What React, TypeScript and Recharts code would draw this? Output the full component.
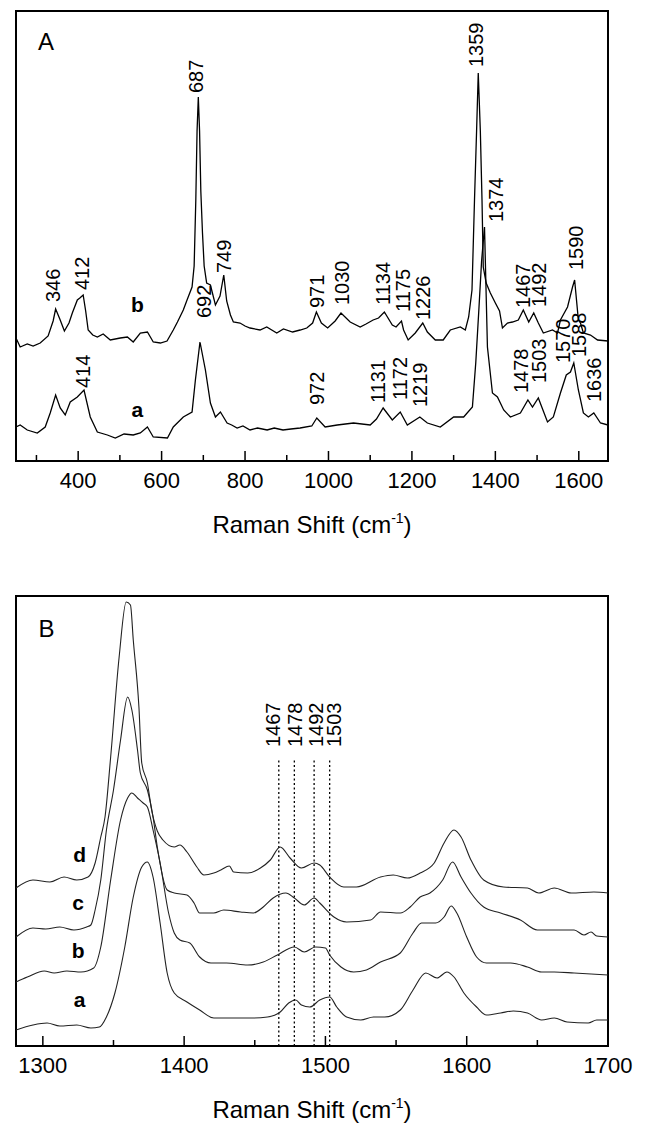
import React from 'react';
import { LineChart, Line, XAxis, YAxis, ReferenceArea, ReferenceDot, ReferenceLine } from 'recharts';

const FONT = '"Liberation Sans", Arial, Helvetica, sans-serif';

// Panel A: full spectra, [Raman shift (cm-1), intensity (a.u., offset)]
const spectrumA_b: [number, number][] = [
  [251, 123], [261, 114], [278, 117], [292, 115], [309, 118], [328, 125], [340, 140], [346, 152],
  [356, 142], [367, 130], [378, 138], [386, 148], [398, 161], [404, 163], [412, 166], [418, 150],
  [424, 131], [435, 126], [446, 124], [460, 127], [477, 121], [501, 123], [518, 124], [532, 119],
  [549, 128], [566, 129], [580, 119], [597, 118], [613, 120], [628, 131], [638, 139], [652, 151],
  [661, 161], [673, 174], [678, 195], [682, 261], [685, 330], [688, 364], [691, 330], [694, 270],
  [698, 228], [702, 195], [708, 178], [717, 176], [729, 156], [740, 165], [749, 186], [756, 160],
  [765, 146], [772, 139], [788, 138], [800, 135], [812, 133], [836, 131], [852, 134], [876, 128],
  [892, 132], [914, 129], [932, 131], [948, 133], [962, 138], [971, 149], [983, 138], [998, 133],
  [1016, 140], [1030, 148], [1052, 139], [1076, 134], [1090, 137], [1107, 141], [1120, 143], [1134, 149],
  [1153, 136], [1162, 134], [1175, 140], [1180, 131], [1191, 121], [1208, 128], [1226, 138], [1237, 129],
  [1256, 121], [1275, 121], [1292, 131], [1316, 134], [1328, 131], [1336, 144], [1344, 171], [1350, 261],
  [1355, 330], [1359, 388], [1364, 330], [1368, 261], [1371, 194], [1378, 178], [1388, 168], [1400, 158],
  [1410, 150], [1417, 133], [1429, 138], [1441, 139], [1455, 141], [1467, 151], [1480, 139], [1492, 148],
  [1503, 138], [1515, 128], [1537, 131], [1549, 128], [1556, 141], [1573, 154], [1585, 174], [1590, 181],
  [1599, 141], [1604, 138], [1611, 128], [1628, 126], [1645, 121], [1670, 120],
];

const spectrumA_a: [number, number][] = [
  [251, 34], [261, 36], [278, 31], [302, 28], [321, 34], [333, 48], [346, 66], [357, 53],
  [369, 46], [381, 59], [398, 64], [414, 71], [429, 44], [446, 29], [470, 26], [489, 23],
  [510, 27], [532, 26], [549, 28], [566, 34], [580, 24], [614, 23], [628, 34], [652, 44],
  [673, 49], [681, 81], [692, 119], [705, 91], [717, 58], [729, 44], [741, 49], [757, 38],
  [768, 36], [781, 33], [795, 35], [812, 31], [830, 33], [853, 31], [870, 33], [891, 31],
  [910, 32], [932, 33], [960, 35], [972, 43], [992, 34], [1021, 36], [1060, 38], [1100, 36],
  [1115, 42], [1131, 53], [1153, 41], [1172, 49], [1189, 36], [1219, 44], [1237, 38], [1268, 34],
  [1300, 44], [1324, 44], [1345, 54], [1353, 98], [1360, 148], [1367, 200], [1374, 234], [1381, 114],
  [1393, 68], [1405, 64], [1420, 51], [1436, 44], [1460, 48], [1478, 61], [1489, 54], [1503, 63],
  [1525, 39], [1539, 44], [1556, 68], [1570, 86], [1580, 89], [1588, 98], [1599, 71], [1611, 48],
  [1623, 44], [1636, 48], [1652, 38], [1670, 36],
];

// Panel B: 1280-1700 region, four spectra offset
const spectrumB_d: [number, number][] = [
  [1281, 158], [1293, 166], [1305, 164], [1315, 169], [1324, 166], [1332, 169], [1337, 183], [1341, 209],
  [1344, 229], [1348, 289], [1354, 389], [1359, 444], [1362, 441], [1364, 406], [1368, 339], [1370, 283],
  [1374, 263], [1377, 236], [1381, 215], [1385, 206], [1393, 199], [1397, 201], [1402, 194], [1409, 179],
  [1414, 171], [1421, 173], [1426, 176], [1432, 180], [1435, 174], [1445, 173], [1454, 178], [1461, 186],
  [1468, 199], [1475, 188], [1483, 178], [1492, 183], [1496, 181], [1503, 169], [1513, 159], [1522, 159],
  [1539, 169], [1548, 171], [1558, 168], [1567, 173], [1577, 183], [1584, 203], [1591, 216], [1596, 209],
  [1603, 186], [1612, 166], [1626, 159], [1643, 158], [1651, 153], [1662, 158], [1674, 153], [1690, 154],
  [1700, 153],
];

const spectrumB_c: [number, number][] = [
  [1281, 109], [1293, 118], [1302, 117], [1312, 119], [1322, 116], [1331, 119], [1334, 121], [1337, 136],
  [1341, 166], [1345, 216], [1350, 256], [1355, 306], [1360, 349], [1363, 336], [1367, 296], [1369, 273],
  [1374, 256], [1378, 229], [1381, 199], [1388, 156], [1393, 153], [1402, 151], [1407, 143], [1411, 133],
  [1421, 133], [1428, 136], [1440, 134], [1449, 133], [1456, 139], [1463, 148], [1472, 153], [1478, 148],
  [1485, 141], [1492, 148], [1496, 143], [1506, 129], [1515, 124], [1532, 126], [1539, 134], [1553, 133],
  [1560, 139], [1567, 149], [1574, 153], [1583, 166], [1590, 184], [1596, 169], [1603, 153], [1612, 139],
  [1624, 133], [1638, 126], [1650, 116], [1662, 116], [1676, 116], [1683, 111], [1688, 114], [1692, 110],
  [1700, 109],
];

const spectrumB_b: [number, number][] = [
  [1281, 64], [1289, 69], [1301, 75], [1308, 73], [1317, 75], [1327, 74], [1336, 78], [1341, 99],
  [1348, 166], [1355, 226], [1360, 248], [1363, 253], [1367, 248], [1371, 243], [1374, 239], [1378, 216],
  [1383, 183], [1389, 133], [1393, 113], [1397, 106], [1404, 103], [1411, 89], [1419, 83], [1430, 83],
  [1445, 81], [1456, 84], [1466, 91], [1478, 99], [1485, 94], [1493, 99], [1500, 98], [1503, 91],
  [1511, 79], [1520, 74], [1529, 76], [1539, 84], [1553, 93], [1562, 113], [1568, 123], [1578, 123],
  [1584, 129], [1589, 140], [1593, 133], [1600, 109], [1607, 89], [1614, 83], [1631, 83], [1643, 79],
  [1653, 74], [1662, 74], [1676, 73], [1700, 71],
];

const spectrumB_a: [number, number][] = [
  [1281, 16], [1293, 21], [1303, 23], [1312, 20], [1324, 21], [1334, 18], [1340, 19], [1345, 29],
  [1351, 53], [1358, 99], [1364, 149], [1370, 179], [1374, 184], [1378, 169], [1383, 123], [1388, 73],
  [1393, 53], [1402, 44], [1411, 36], [1421, 28], [1435, 28], [1449, 28], [1459, 29], [1468, 34],
  [1474, 43], [1479, 46], [1483, 41], [1489, 39], [1496, 46], [1503, 49], [1508, 39], [1515, 29],
  [1525, 26], [1534, 29], [1542, 29], [1553, 36], [1562, 56], [1571, 73], [1579, 68], [1586, 74],
  [1591, 69], [1598, 53], [1607, 39], [1614, 31], [1624, 33], [1633, 35], [1643, 33], [1653, 26],
  [1662, 28], [1671, 24], [1686, 23], [1692, 26], [1700, 26],
];

// peak labels: [text, shift at label centre, intensity at label foot]
const peakLabelsA: [string, number, number][] = [
  ['346', 340, 159], ['412', 409, 171], ['687', 681, 368], ['749', 750, 188], ['971', 971, 153],
  ['1030', 1032, 156], ['1134', 1131, 156], ['1175', 1178, 149], ['1226', 1226, 141], ['1359', 1353, 394],
  ['1374', 1402, 239], ['1467', 1465, 153], ['1492', 1504, 154], ['1590', 1593, 191],
  ['692', 700, 143], ['414', 412, 73], ['972', 971, 56], ['1131', 1118, 58], ['1172', 1170, 61],
  ['1219', 1220, 54], ['1478', 1462, 68], ['1503', 1505, 78], ['1570', 1561, 98], ['1588', 1599, 104],
  ['1636', 1635, 59],
];
const peakLabelsB: [string, number, number][] = [
  ['1467', 1463, 299], ['1478', 1478, 299], ['1492', 1493, 299], ['1503', 1506, 299],
];
const markerLinesB = [1467, 1478, 1492, 1503];

const seriesLabelsA: [string, number, number][] = [['b', 542, 149], ['a', 542, 44]];
const seriesLabelsB: [string, number, number][] = [['d', 1326, 184], ['c', 1325, 136], ['b', 1325, 88], ['a', 1326, 39]];

const ticksA = [300, 400, 500, 600, 700, 800, 900, 1000, 1100, 1200, 1300, 1400, 1500, 1600];
const majorTicksA = [400, 600, 800, 1000, 1200, 1400, 1600];
const ticksB = [1300, 1350, 1400, 1450, 1500, 1550, 1600, 1650, 1700];
const majorTicksB = [1300, 1400, 1500, 1600, 1700];

const toRows = (s: [number, number][]) => s.map(([shift, intensity]) => ({ shift, intensity }));

const makeTick = (majors: number[]) => (props: any) => {
  const { x, y, payload } = props;
  const major = majors.includes(payload.value);
  return (
    <g>
      <line x1={x} x2={x} y1={y} y2={y - (major ? 10 : 6)} stroke="#000" strokeWidth={1.5} />
      {major && (
        <text x={x} y={y + 27} textAnchor="middle" fontSize={22} fontFamily={FONT} fill="#000">
          {payload.value}
        </text>
      )}
    </g>
  );
};

const rotatedText = (text: string, size: number) => (p: any) => {
  const bx = p.cx + size * 0.36;
  return (
    <text x={bx} y={p.cy} transform={`rotate(-90 ${bx} ${p.cy})`} fontSize={size} fontFamily={FONT} fill="#000">
      {text}
    </text>
  );
};

const plainText = (text: string, size: number, bold: boolean, anchor: 'start' | 'middle') => (p: any) => (
  <text x={p.cx} y={p.cy} textAnchor={anchor} fontSize={size} fontWeight={bold ? 'bold' : 'normal'} fontFamily={FONT} fill="#000">
    {text}
  </text>
);

const axisTitle = (p: any) => {
  const vb = p.viewBox;
  return (
    <text x={vb.x + vb.width / 2} y={vb.y + 72} textAnchor="middle" fontSize={24} fontFamily={FONT} fill="#000">
      Raman Shift (cm
      <tspan dy={-10} fontSize={14}>-1</tspan>
      <tspan dy={10}>)</tspan>
    </text>
  );
};

const W = 645;
const H = 545;
const MARGIN = { top: 11, right: 37, bottom: 44, left: 16 };

function PanelA() {
  return (
    <LineChart width={W} height={H} margin={MARGIN}>
      <XAxis
        dataKey="shift"
        type="number"
        domain={[251, 1670]}
        ticks={ticksA}
        interval={0}
        allowDataOverflow
        height={40}
        axisLine={false}
        tickLine={false}
        tickSize={0}
        tickMargin={0}
        tick={makeTick(majorTicksA)}
        label={{ content: axisTitle }}
      />
      <YAxis hide type="number" domain={[0, 450]} allowDataOverflow />
      <Line data={toRows(spectrumA_b)} dataKey="intensity" type="linear" stroke="#000" strokeWidth={1.3} dot={false} isAnimationActive={false} />
      <Line data={toRows(spectrumA_a)} dataKey="intensity" type="linear" stroke="#000" strokeWidth={1.3} dot={false} isAnimationActive={false} />
      <ReferenceArea x1={251} x2={1670} y1={0} y2={450} fill="none" stroke="#000" strokeWidth={2} ifOverflow="visible" />
      {peakLabelsA.map(([t, x, y]) => (
        <ReferenceDot key={t + x} x={x} y={y} r={0} ifOverflow="visible" shape={rotatedText(t, 20)} />
      ))}
      {seriesLabelsA.map(([t, x, y]) => (
        <ReferenceDot key={t} x={x} y={y} r={0} ifOverflow="visible" shape={plainText(t, 21, true, 'middle')} />
      ))}
      <ReferenceDot x={304} y={411} r={0} ifOverflow="visible" shape={plainText('A', 24, false, 'start')} />
    </LineChart>
  );
}

function PanelB() {
  return (
    <LineChart width={W} height={H + 3} margin={{ ...MARGIN, bottom: 47 }}>
      <XAxis
        dataKey="shift"
        type="number"
        domain={[1281, 1700]}
        ticks={ticksB}
        interval={0}
        allowDataOverflow
        height={40}
        axisLine={false}
        tickLine={false}
        tickSize={0}
        tickMargin={0}
        tick={makeTick(majorTicksB)}
        label={{ content: axisTitle }}
      />
      <YAxis hide type="number" domain={[0, 450]} allowDataOverflow />
      {markerLinesB.map((x) => (
        <ReferenceLine key={x} segment={[{ x, y: 0 }, { x, y: 288 }]} stroke="#000" strokeWidth={1.3} strokeDasharray="2 2.5" />
      ))}
      {[spectrumB_d, spectrumB_c, spectrumB_b, spectrumB_a].map((s, i) => (
        <Line key={i} data={toRows(s)} dataKey="intensity" type="monotone" stroke="#222" strokeWidth={1.1} dot={false} isAnimationActive={false} />
      ))}
      <ReferenceArea x1={1281} x2={1700} y1={0} y2={450} fill="none" stroke="#000" strokeWidth={2} ifOverflow="visible" />
      {peakLabelsB.map(([t, x, y]) => (
        <ReferenceDot key={t} x={x} y={y} r={0} ifOverflow="visible" shape={rotatedText(t, 20)} />
      ))}
      {seriesLabelsB.map(([t, x, y]) => (
        <ReferenceDot key={t} x={x} y={y} r={0} ifOverflow="visible" shape={plainText(t, 21, true, 'middle')} />
      ))}
      <ReferenceDot x={1297} y={409} r={0} ifOverflow="visible" shape={plainText('B', 24, false, 'start')} />
    </LineChart>
  );
}

export default function App() {
  return (
    <div style={{ position: 'absolute', left: 0, top: 0, width: W, height: 1133, background: '#fff' }}>
      <div style={{ position: 'absolute', left: 0, top: 0 }}>
        <PanelA />
      </div>
      <div style={{ position: 'absolute', left: 0, top: 585 }}>
        <PanelB />
      </div>
    </div>
  );
}
